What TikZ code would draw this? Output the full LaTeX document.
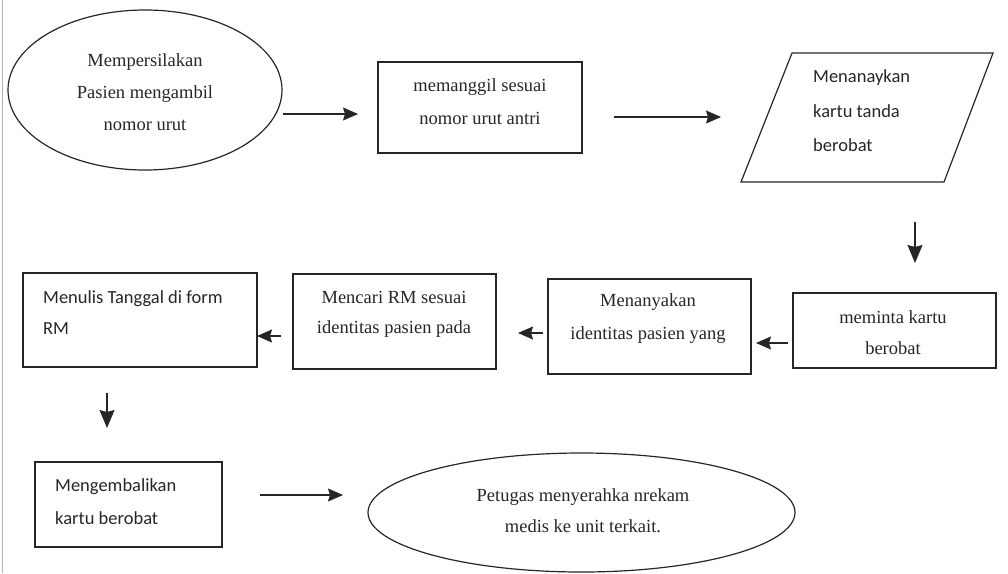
\documentclass[tikz,border=0pt]{standalone}
\usepackage{fontspec}
\setmainfont{Liberation Serif}
\newfontfamily\calfont{Carlito}
\usetikzlibrary{shapes.geometric,arrows.meta}
\begin{document}
\begin{tikzpicture}[x=1pt,y=-1pt,
  shp/.style={draw=black!85, line width=1.2pt},
  box/.style={shp, rectangle, inner sep=0pt},
  oval/.style={shp, ellipse, inner sep=0pt},
  serif/.style={font=\fontsize{18.5}{#1}\selectfont, align=center, inner sep=0pt, text=black!85},
  sans/.style={font=\calfont\fontsize{18.5}{#1}\selectfont, align=left, inner sep=0pt, anchor=west, text=black!85},
  arr/.style={-{Stealth[length=15pt,width=13pt,inset=2pt]}, line width=1.2pt, draw=black!85},
  varr/.style={-{Stealth[length=18pt,width=15pt,inset=2pt]}, line width=1.2pt, draw=black!85}]
\useasboundingbox (0,0) rectangle (1008,573);
\draw[gray!60, line width=1pt] (2,0) -- (2,573);

% shapes
\node[oval, minimum width=274pt, minimum height=160pt] (n1) at (145,90) {};
\node[serif=32] (t1) at (145,92) {Mempersilakan\\Pasien mengambil\\nomor urut};

\node[box, minimum width=204pt, minimum height=91pt] (n2) at (480,107.5) {};
\node[serif=33] (t2) at (480,102) {memanggil sesuai\\nomor urut antri};

\draw[shp] (792,53) -- (993,53) -- (944,182) -- (741,182) -- cycle;
\coordinate (n3) at (867,117.5);
\node[sans=34.5] (t3) at (813,111) {Menanaykan\\kartu tanda\\berobat};

\node[box, minimum width=203pt, minimum height=75pt] (n4) at (894.5,330.5) {};
\node[serif=31] (t4) at (893,333) {meminta kartu\\berobat};

\node[box, minimum width=203pt, minimum height=95pt] (n5) at (649.5,326.5) {};
\node[serif=33] (t5) at (648,318.5) {Menanyakan\\identitas pasien yang};

\node[box, minimum width=203pt, minimum height=95pt] (n6) at (394.5,321.5) {};
\node[serif=30] (t6) at (394,314) {Mencari RM sesuai\\identitas pasien pada};

\node[box, minimum width=234pt, minimum height=94pt] (n7) at (140,320) {};
\node[sans=31] (t7) at (43,313) {Menulis Tanggal di form\\RM};

\node[box, minimum width=187pt, minimum height=85pt] (n8) at (128.5,504.5) {};
\node[sans=33] (t8) at (55,502) {Mengembalikan\\kartu berobat};

\node[oval, minimum width=427pt, minimum height=119pt] (n9) at (581.5,512.5) {};
\node[serif=31] (t9) at (583,511) {Petugas menyerahka nrekam\\medis ke unit terkait.};

% arrow end points
\coordinate (a1s) at (283,114); \coordinate (a1e) at (358,114);
\coordinate (a2s) at (614,117); \coordinate (a2e) at (721,117);
\coordinate (a3s) at (915,222); \coordinate (a3e) at (915,263);
\coordinate (a4s) at (788,343); \coordinate (a4e) at (756,343);
\coordinate (a5s) at (543,333); \coordinate (a5e) at (518,333);
\coordinate (a6s) at (281,336); \coordinate (a6e) at (257,336);
\coordinate (a7s) at (107,393); \coordinate (a7e) at (107,428);
\coordinate (a8s) at (260,495); \coordinate (a8e) at (343,495);

\draw[arr] (a1s) -- (a1e);
\draw[arr] (a2s) -- (a2e);
\draw[varr] (a3s) -- (a3e);
\draw[arr] (a4s) -- (a4e);
\draw[arr] (a5s) -- (a5e);
\draw[arr] (a6s) -- (a6e);
\draw[varr] (a7s) -- (a7e);
\draw[arr] (a8s) -- (a8e);
\end{tikzpicture}
\end{document}
